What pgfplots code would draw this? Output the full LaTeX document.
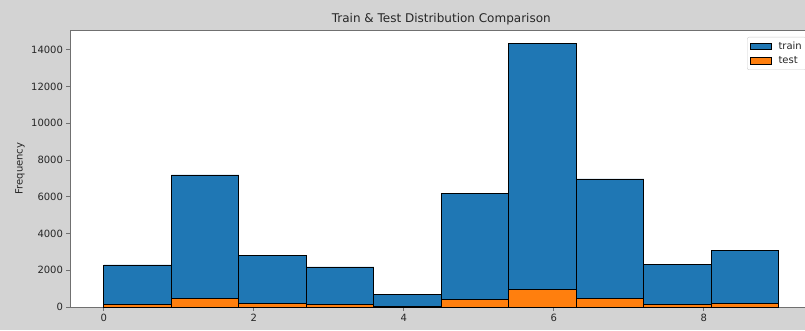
\documentclass[border=0pt]{standalone}
\usepackage{fontspec}
\setmainfont{DejaVu Sans}
\usepackage{pgfplots}
\pgfplotsset{compat=1.18}
\definecolor{trainc}{HTML}{1F77B4}
\definecolor{testc}{HTML}{FF7F0E}
\definecolor{bgc}{HTML}{D3D3D3}
\definecolor{spinec}{HTML}{707070}
\definecolor{txtc}{HTML}{262626}
\begin{document}
\begin{tikzpicture}[x=1pt,y=1pt]
\fill[bgc] (0,0) rectangle (805,330);
\clip (0,0) rectangle (805,330);
\begin{axis}[
  at={(70pt,23pt)}, anchor=south west,
  scale only axis, width=742.5pt, height=277pt,
  xmin=-0.45, xmax=9.45, ymin=0, ymax=15080,
  axis background/.style={fill=white},
  axis line style={spinec, line width=0.8pt},
  tick pos=left, tick align=outside, major tick length=3.5pt,
  tick style={spinec, line width=0.8pt},
  xtick={0,2,4,6,8}, ytick={0,2000,4000,6000,8000,10000,12000,14000},
  scaled y ticks=false,
  /pgf/number format/assume math mode=true,
  /pgf/number format/1000 sep={},
  ticklabel style={font=\fontsize{10}{12}\selectfont, text=txtc},
  ylabel={Frequency}, ylabel style={font=\fontsize{10}{12}\selectfont, text=txtc, at={(axis description cs:-0.0673,0.5)}, anchor=center, rotate=0},
  title={Train \& Test Distribution Comparison},
  title style={font=\fontsize{12}{14}\selectfont, text=txtc, yshift=-4.5pt},
  legend style={at={(axis cs:8.577,14700)}, anchor=north west, draw=black!20, rounded corners=2pt, fill=white,
    font=\fontsize{10}{12}\selectfont, text=txtc, inner sep=2.5pt, row sep=2pt},
  legend cell align=left,
  legend image code/.code={\draw[#1, sharp corners] (0pt,-3.3pt) rectangle (21pt,3.3pt); \path (26pt,0pt);},
]
\addplot[ybar interval, fill=trainc, draw=black, line width=0.8pt] coordinates {
 (0,2290) (0.9,7190) (1.8,2800) (2.7,2180) (3.6,690) (4.5,6190) (5.4,14360) (6.3,6970) (7.2,2340) (8.1,3090) (9,3090)};
\addlegendentry{train}
\addplot[ybar interval, fill=testc, draw=black, line width=0.8pt] coordinates {
 (0,140) (0.9,490) (1.8,200) (2.7,140) (3.6,40) (4.5,400) (5.4,980) (6.3,450) (7.2,130) (8.1,200) (9,200)};
\addlegendentry{test}
\end{axis}
\end{tikzpicture}
\end{document}
